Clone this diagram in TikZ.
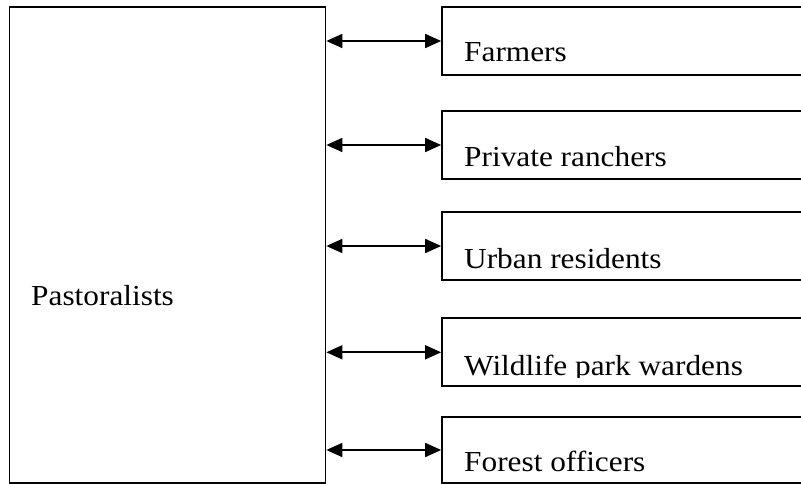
\documentclass[tikz,border=0pt]{standalone}
\usepackage{fontspec}
\setmainfont{Liberation Serif}[FakeStretch=1.08]
\usetikzlibrary{arrows.meta,positioning}
\tikzset{
  linkarrow/.style={{Triangle[length=16pt,width=14pt]}-{Triangle[length=16pt,width=14pt]},
    line width=1.7pt},
  boxlabel/.style={anchor=base west, inner sep=0pt, font=\fontsize{29}{34}\selectfont}
}

\begin{document}
\begin{tikzpicture}[
  x=1pt, y=-1pt,
  box/.style={draw, line width=1.7pt, inner sep=0pt, minimum width=378pt, minimum height=68pt}
]
\clip (0,0) rectangle (801,484);
\node[box, minimum width=316pt, minimum height=476pt] at (167.5,244.8) (past) {};
\node[box] at (631,41) (farm) {};
\node[box] at (631,145) (ranch) {};
\node[box] at (631,246) (urban) {};
\node[box] at (631,352.3) (wild) {};
\node[box, minimum height=66pt] at (631,450) (forest) {};

\node[boxlabel] at (31,305) (pasttxt) {Pastoralists};
\node[boxlabel] at (464,62) (farmtxt) {Farmers};
\node[boxlabel] at (464,166.7) (ranchtxt) {Private ranchers};
\node[boxlabel] at (464,268) (urbantxt) {Urban residents};
% the warden label is cut off just under its baseline
\begin{scope}
  \clip (442,318) rectangle (801,377);
  \node[boxlabel] at (464,375) (wildtxt) {Wildlife park wardens};
\end{scope}
\node[boxlabel] at (464,471.7) (foresttxt) {Forest officers};

% two-way links from the pastoralists to every other group
\foreach \grp in {farm,ranch,urban,wild,forest}
  \draw[linkarrow] (\grp.west -| past.east) -- (\grp.west);
\end{tikzpicture}
\end{document}
